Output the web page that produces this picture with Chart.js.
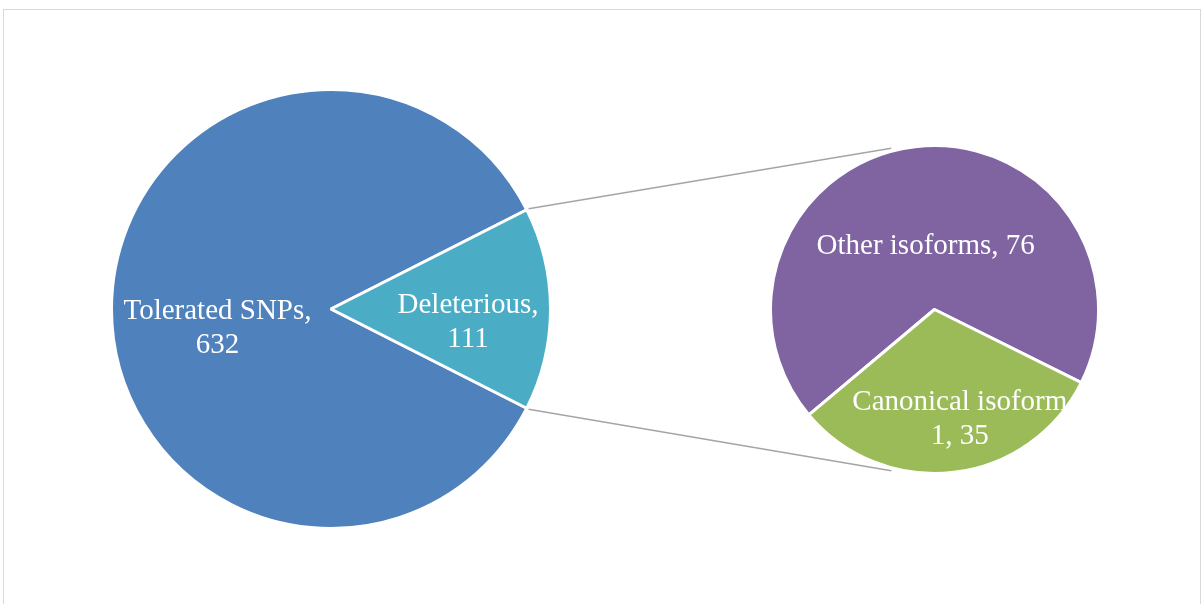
<!DOCTYPE html>
<html>
<head>
<meta charset="utf-8">
<title>SNP pie of pie</title>
<script src="https://cdn.jsdelivr.net/npm/chart.js@4.4.1/dist/chart.umd.min.js"></script>
<style>
  body { margin: 0; width: 1202px; height: 604px; overflow: hidden; position: relative; background: #fff; }
  #frame { position: absolute; left: 3px; top: 9px; width: 1196px; height: 700px; border: 1px solid #d9d9d9; }
  #links { position: absolute; left: 0; top: 0; }
  .pie { position: absolute; }
  #mainBox { left: 110px; top: 88px; width: 442px; height: 442px; }
  #subBox { left: 769px; top: 144px; width: 331px; height: 331px; }
</style>
</head>
<body>
<div id="frame"></div>
<canvas id="links" width="1202" height="604"></canvas>
<div class="pie" id="mainBox"><canvas id="mainPie"></canvas></div>
<div class="pie" id="subBox"><canvas id="subPie"></canvas></div>

<script>
// main pie: all SNPs
const mainLabels = ["Tolerated SNPs", "Deleterious"];
const mainValues = [632, 111];
const mainColors = ["#4f81bd", "#4bacc6"];

// split of the deleterious slice
const subLabels = ["Other isoforms", "Canonical isoform1"];
const subValues = [76, 35];
const subColors = ["#8064a2", "#9bbb59"];

// how each label is broken into lines ({v} = value)
const mainText = ["Tolerated SNPs,\n{v}", "Deleterious,\n{v}"];
const subText = ["Other isoforms, {v}", "Canonical isoform\n1, {v}"];

// label anchor: fraction of radius, turn from slice middle (deg)
const mainPlace = [{ dist: 0.523, turn: -8.6 }, { dist: 0.626, turn: 4.6 }];
const subPlace = [{ dist: 0.405, turn: -0.9 }, { dist: 0.673, turn: -6.5 }];

const FONT = "29px 'Liberation Serif', 'Times New Roman', serif";
const LINE_H = 34;

function sliceLabels(texts, places) {
  return {
    id: "sliceLabels",
    afterDatasetsDraw(chart) {
      const ctx = chart.ctx;
      const meta = chart.getDatasetMeta(0);
      const values = chart.data.datasets[0].data;
      const first = meta.data[0];
      ctx.save();
      // labels never spill outside the pie
      ctx.beginPath();
      ctx.arc(first.x, first.y, first.outerRadius, 0, Math.PI * 2);
      ctx.clip();
      ctx.font = FONT;
      ctx.fillStyle = "#fff";
      ctx.textAlign = "center";
      ctx.textBaseline = "alphabetic";
      meta.data.forEach((arc, i) => {
        const p = places[i];
        const a = (arc.startAngle + arc.endAngle) / 2 + p.turn * Math.PI / 180;
        const r = arc.outerRadius * p.dist;
        const cx = arc.x + Math.cos(a) * r;
        const cy = arc.y + Math.sin(a) * r;
        const lines = texts[i].replace("{v}", values[i]).split("\n");
        lines.forEach((ln, k) => {
          const y = cy + (k - (lines.length - 1) / 2) * LINE_H + 10;
          ctx.fillText(ln, cx, y);
        });
      });
      ctx.restore();
    }
  };
}

function pieConfig(labels, values, colors, rotation, texts, places) {
  return {
    type: "pie",
    data: {
      labels,
      datasets: [{
        data: values,
        backgroundColor: colors,
        borderColor: "#fff",
        borderWidth: 3
      }]
    },
    options: {
      responsive: true,
      maintainAspectRatio: false,
      animation: false,
      events: [],
      rotation,
      layout: { padding: 0 },
      plugins: { legend: { display: false }, tooltip: { enabled: false } }
    },
    plugins: [sliceLabels(texts, places)]
  };
}

const mainTotal = mainValues.reduce((a, b) => a + b, 0);
// centre the deleterious slice on the right-hand side
const mainRotation = 90 + 180 * mainValues[1] / mainTotal;

const mainChart = new Chart(document.getElementById("mainPie"),
  pieConfig(mainLabels, mainValues, mainColors, mainRotation, mainText, mainPlace));
const subChart = new Chart(document.getElementById("subPie"),
  pieConfig(subLabels, subValues, subColors, 230, subText, subPlace));

// grey connector lines from the deleterious slice to the second pie
function drawLinks() {
  const cv = document.getElementById("links");
  const ctx = cv.getContext("2d");
  ctx.clearRect(0, 0, cv.width, cv.height);
  const mBox = document.getElementById("mainBox");
  const sBox = document.getElementById("subBox");
  const del = mainChart.getDatasetMeta(0).data[1];
  const sub = subChart.getDatasetMeta(0).data[0];
  const mx = mBox.offsetLeft + del.x, my = mBox.offsetTop + del.y;
  const sx = sBox.offsetLeft + sub.x, sy = sBox.offsetTop + sub.y;
  const linkAngle = 105 * Math.PI / 180;
  const ends = [
    [del.startAngle, -linkAngle],
    [del.endAngle, linkAngle]
  ];
  ctx.strokeStyle = "#a5a5a5";
  ctx.lineWidth = 1.5;
  ends.forEach(([a0, a1]) => {
    ctx.beginPath();
    ctx.moveTo(mx + Math.cos(a0) * (del.outerRadius + 2), my + Math.sin(a0) * (del.outerRadius + 2));
    ctx.lineTo(sx + Math.cos(a1) * (sub.outerRadius + 3), sy + Math.sin(a1) * (sub.outerRadius + 3));
    ctx.stroke();
  });
}
drawLinks();
</script>
</body>
</html>
